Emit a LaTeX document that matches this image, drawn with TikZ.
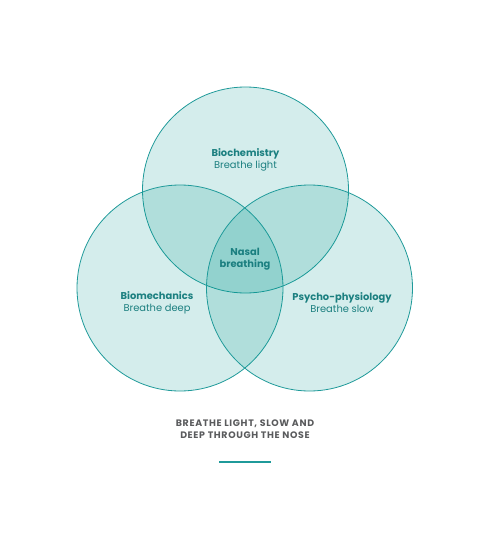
\documentclass[tikz,border=0pt]{standalone}
\usepackage{fontspec}
\setmainfont{Poppins}
\usepackage{tikz}
\definecolor{vennline}{HTML}{1F9A9A}
\definecolor{vennfill}{HTML}{00968C}
\definecolor{labeltext}{HTML}{1B7F80}
\definecolor{captiontext}{HTML}{5A5B5D}
\tikzset{venn node/.style={circle,draw=vennline,fill=vennfill,fill opacity=0.17,draw opacity=1,minimum size=206pt,inner sep=0pt,line width=0.8pt},
label node/.style={align=center,text=labeltext,font=\fontsize{9.9}{11.8}\selectfont,inner sep=0pt},
caption node/.style={align=center,text=captiontext,font=\bfseries\fontsize{9.4}{12}\selectfont\addfontfeatures{LetterSpace=7},inner sep=0pt},
}
\usetikzlibrary{positioning}

\begin{document}
\begin{tikzpicture}[x=1pt,y=-1pt]
	\useasboundingbox (0,0) rectangle (490,551);
	
	%% circles
	\node[venn node] (chem) at (245.5,190) {};
	\node[venn node] (mech) at (180,288) {};
	\node[venn node] (psych) at (309.5,288) {};
	
	%% labels
	\node[label node] (chemlabel) at (245.5,160) {\textbf{Biochemistry}\\Breathe light};
	\node[label node] (mechlabel) at (157,302.5) {\textbf{Biomechanics}\\Breathe deep};
	\node[label node] (psychlabel) at (342,302.5) {\textbf{Psycho-physiology}\\Breathe slow};
	\node[label node] (nasal) at (245,259.5) {\textbf{Nasal}\\\textbf{breathing}};
	
	%% caption
	\node[caption node] (caption) at (245,429) {BREATHE LIGHT, SLOW AND\\DEEP THROUGH THE NOSE};
	\coordinate (rule left) at (219,462);
	\coordinate (rule right) at (271,462);
	\draw[vennline,line width=1.5pt] (rule left) -- (rule right);
\end{tikzpicture}
\end{document}
